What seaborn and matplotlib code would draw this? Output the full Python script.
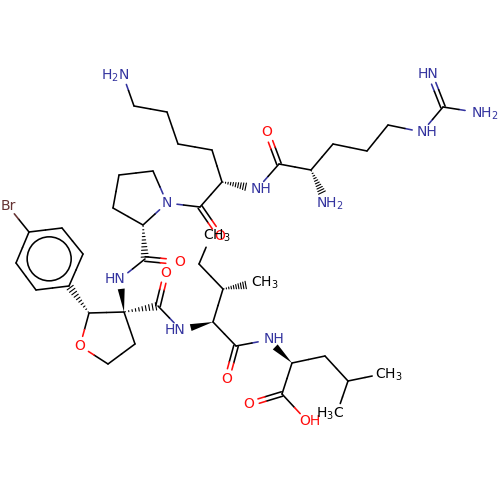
import numpy as np
import pandas as pd
import seaborn as sns
import matplotlib.pyplot as plt
from matplotlib.patches import Circle

sns.set_theme(style="white")
plt.rcParams['font.family'] = ['DejaVu Sans']
plt.rcParams['mathtext.default'] = 'regular'

# atoms (pixels)
atom_names = ['lysN', 'lys1', 'lys2', 'lys3', 'lys4', 'lysA', 'lysC', 'lysO', 'lysH',
              'proN', 'pro1', 'pro2', 'pro3', 'proA', 'proC', 'proO', 'proH',
              'argC', 'argO', 'argA', 'argN', 'arg1', 'arg2', 'arg3', 'argE', 'guC', 'guN1', 'guN2',
              'ph1', 'ph2', 'ph3', 'ph4', 'ph5', 'ph6', 'br',
              'thf2', 'thf3', 'thf4', 'thf5', 'thfO',
              'amC', 'amO', 'amN',
              'ileA', 'ileB', 'ileM', 'ileG', 'ileD', 'ileC', 'ileO',
              'leuN', 'leuA', 'leuB', 'leuG', 'leuD1', 'leuD2', 'cooC', 'cooO', 'cooH']
atom_x = [123, 134, 167, 178, 212, 222, 200, 220, 257,
          167, 153, 119, 113, 143, 145, 176, 120,
          279, 267, 311, 327, 333, 367, 388, 422, 443, 430, 475,
          29, 62, 83, 69, 36, 16, 8,
          89, 124, 135, 108, 80,
          158, 166, 181,
          213, 223, 257, 199, 210, 236, 227,
          268, 292, 325, 348, 382, 337, 282, 249, 307]
atom_y = [75, 106, 112, 144, 150, 182, 207, 236, 189,
          203, 171, 175, 208, 225, 259, 262, 279,
          164, 132, 170, 203, 144, 151, 125, 132, 107, 74, 112,
          232, 228, 254, 286, 290, 263, 206,
          313, 312, 344, 364, 346,
          306, 273, 330,
          322, 289, 283, 264, 238, 346, 379,
          340, 363, 356, 381, 374, 413, 394, 404, 421]

hetero = {'lysN': 'N', 'lysO': 'O', 'lysH': 'N', 'proN': 'N', 'proO': 'O', 'proH': 'N',
          'argO': 'O', 'argN': 'N', 'argE': 'N', 'guN1': 'N', 'guN2': 'N', 'br': 'Br',
          'thfO': 'O', 'amO': 'O', 'amN': 'N', 'ileM': 'C', 'ileD': 'C', 'ileO': 'O',
          'leuN': 'N', 'leuD1': 'C', 'leuD2': 'C', 'cooO': 'O', 'cooH': 'O'}

single_bonds = [('lysN', 'lys1'), ('lys1', 'lys2'), ('lys2', 'lys3'), ('lys3', 'lys4'),
                ('lys4', 'lysA'), ('lysA', 'lysC'), ('lysC', 'proN'), ('proN', 'pro1'),
                ('pro1', 'pro2'), ('pro2', 'pro3'), ('pro3', 'proA'), ('proA', 'proN'),
                ('proC', 'proH'), ('lysH', 'argC'), ('argC', 'argA'), ('argA', 'arg1'),
                ('arg1', 'arg2'), ('arg2', 'arg3'), ('arg3', 'argE'), ('argE', 'guC'),
                ('guC', 'guN2'), ('ph1', 'ph2'), ('ph2', 'ph3'), ('ph3', 'ph4'),
                ('ph4', 'ph5'), ('ph5', 'ph6'), ('ph6', 'ph1'), ('ph1', 'br'),
                ('thf2', 'thf3'), ('thf3', 'thf4'), ('thf4', 'thf5'), ('thf5', 'thfO'),
                ('thfO', 'thf2'), ('amC', 'amN'), ('ileA', 'ileB'), ('ileB', 'ileG'),
                ('ileG', 'ileD'), ('ileA', 'ileC'), ('ileC', 'leuN'), ('leuA', 'leuB'),
                ('leuB', 'leuG'), ('leuG', 'leuD1'), ('leuG', 'leuD2'), ('leuA', 'cooC'),
                ('cooC', 'cooH')]
double_bonds = [('lysC', 'lysO'), ('proC', 'proO'), ('argC', 'argO'),
                ('guC', 'guN1'), ('amC', 'amO'), ('ileC', 'ileO'), ('cooC', 'cooO')]
hash_bonds = [('lysA', 'lysH'), ('argA', 'argN'), ('proA', 'proC'), ('thf2', 'ph4'),
              ('thf3', 'amC'), ('ileB', 'ileM')]
wedge_bonds = [('thf3', 'proH'), ('ileA', 'amN'), ('leuA', 'leuN')]

label_text = ['H$_2$N', 'N', 'O', 'O', 'CH$_3$', 'HN', 'O', 'HN', 'O', 'Br',
              'O', 'NH', 'NH$_2$', 'NH', 'HN', 'NH$_2$',
              'CH$_3$', 'NH', 'O', 'O', 'OH', 'CH$_3$', 'H$_3$C']
label_x = [115, 167, 220, 180, 217, 115, 166, 175, 80, 8,
           267, 261, 330, 427, 428, 485,
           265, 274, 227, 249, 310, 389, 330]
label_y = [76, 203, 236, 262, 236, 279, 273, 330, 346, 206,
           132, 189, 204, 132, 74, 114,
           283, 339, 379, 404, 421, 375, 414]
label_elem = ['N', 'N', 'O', 'O', 'C', 'N', 'O', 'N', 'O', 'Br',
              'O', 'N', 'N', 'N', 'N', 'N',
              'C', 'N', 'O', 'O', 'O', 'C', 'C']

colors = {'C': '#000000', 'N': '#33339f', 'O': '#ff0d0d', 'Br': '#663333'}
pos = {n: np.array([x, y], float) for n, x, y in zip(atom_names, atom_x, atom_y)}

rows = []
seg_id = 0


def add_seg(p, q, col, kind):
    global seg_id
    rows.append((seg_id, p[0], p[1], col, kind))
    rows.append((seg_id, q[0], q[1], col, kind))
    seg_id += 1


def trimmed(a, b, p=None, q=None):
    p = pos[a] if p is None else p
    q = pos[b] if q is None else q
    u = (q - p) / np.linalg.norm(q - p)
    if a in hetero:
        p = p + u * 10
    if b in hetero:
        q = q - u * 10
    return p, q


def add_bond(a, b, p=None, q=None):
    mid = ((pos[a] if p is None else p) + (pos[b] if q is None else q)) / 2
    p, q = trimmed(a, b, p, q)
    add_seg(p, mid, colors[hetero.get(a, 'C')], 'bond')
    add_seg(mid, q, colors[hetero.get(b, 'C')], 'bond')


for a, b in single_bonds:
    add_bond(a, b)

# terminal double bonds sit either side of the axis
for a, b in double_bonds:
    d = pos[b] - pos[a]
    n = np.array([-d[1], d[0]]) / np.linalg.norm(d) * 2.3
    add_bond(a, b, pos[a] + n, pos[b] + n)
    add_bond(a, b, pos[a] - n, pos[b] - n)

for a, b in hash_bonds:
    p, q = trimmed(a, b)
    d = q - p
    n = np.array([-d[1], d[0]]) / np.linalg.norm(d)
    for t in np.arange(0.04, 1.01, 0.1):
        c = p + d * t
        add_seg(c - n * 4 * t, c + n * 4 * t, colors['C'], 'hash')

segs = pd.DataFrame(rows, columns=['seg', 'x', 'y', 'color', 'kind'])

fig = plt.figure(figsize=(5, 5), dpi=100)
ax = fig.add_axes([0, 0, 1, 1])

for kind, lw in [('bond', 1.15), ('hash', 0.8)]:
    sns.lineplot(data=segs[segs['kind'] == kind], x='x', y='y', units='seg', hue='color',
                 palette={c: c for c in colors.values()}, estimator=None, sort=False,
                 legend=False, linewidth=lw, ax=ax)

for a, b in wedge_bonds:
    p, q = trimmed(a, b)
    d = q - p
    n = np.array([-d[1], d[0]]) / np.linalg.norm(d) * 3.5
    tri = np.array([p, q + n, q - n])
    ax.fill(tri[:, 0], tri[:, 1], color='black', lw=0)

# aromatic ring
ring = np.array([pos[f'ph{i}'] for i in range(1, 7)])
ax.add_patch(Circle(ring.mean(axis=0), 22, fill=False, ec='black', lw=1.15))

for s, x, y, e in zip(label_text, label_x, label_y, label_elem):
    ax.text(x, y, s, color=colors[e], fontsize=10, ha='center', va='center')

ax.set_xlim(0, 500)
ax.set_ylim(500, 0)
ax.axis('off')
fig.savefig("out.png", dpi=100, facecolor='white')
plt.close()
